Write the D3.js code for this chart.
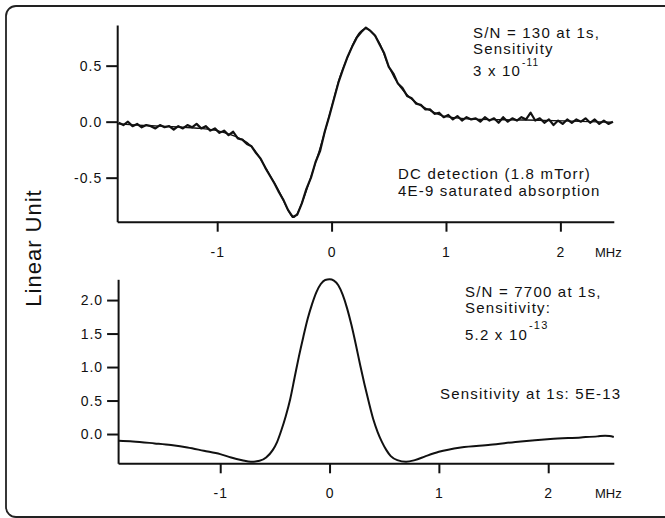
<!DOCTYPE html>
<meta charset="utf-8">
<script src="https://d3js.org/d3.v7.min.js"></script>
<style>
  body { margin: 0; background: #fff; }
  svg text { font-family: "Liberation Sans", Arial, sans-serif; fill: #111; }
  .axis path, .axis line { stroke: #111; stroke-width: 2; }
  .axis text { font-size: 14px; letter-spacing: 1px; }
  .note { font-size: 15px; letter-spacing: 1.2px; }
</style>
<svg width="665" height="518"></svg>
<script>
// top panel: saturated absorption signal (DC detection), sampled every 0.04 MHz
var topStart = -1.86, topStep = 0.04;
var topSignal = [
  -0.01, -0.03, 0.00, -0.04, -0.02, -0.05, -0.03, -0.04, -0.06, -0.03,
  -0.05, -0.04, -0.07, -0.04, -0.06, -0.03, -0.05, -0.02, -0.06, -0.04,
  -0.08, -0.06, -0.10, -0.08, -0.12, -0.09, -0.15, -0.16, -0.20, -0.22,
  -0.28, -0.33, -0.41, -0.48, -0.55, -0.63, -0.70, -0.79, -0.85, -0.83,
  -0.73, -0.60, -0.50, -0.36, -0.26, -0.09, 0.05, 0.20, 0.35, 0.47,
  0.58, 0.67, 0.75, 0.80, 0.84, 0.81, 0.77, 0.69, 0.61, 0.49,
  0.43, 0.34, 0.30, 0.23, 0.21, 0.16, 0.15, 0.11, 0.11, 0.07,
  0.08, 0.04, 0.06, 0.02, 0.05, 0.01, 0.04, 0.02, 0.03, 0.00,
  0.04, 0.01, 0.03, -0.01, 0.04, 0.00, 0.03, 0.01, 0.04, 0.02,
  0.08, 0.01, 0.03, -0.01, 0.02, -0.03, 0.01, -0.02, 0.02, -0.01,
  0.02, 0.00, 0.03, -0.01, 0.02, -0.02, 0.01, -0.02, 0.00
];
// smooth fit drawn under the noisy trace
var topFitX = [-1.87, -1.7, -1.5, -1.3, -1.15, -1.0, -0.9, -0.8, -0.7, -0.63, -0.55, -0.45, -0.38, -0.335, -0.3, -0.25, -0.16, -0.07, 0.0, 0.07, 0.15, 0.2, 0.25, 0.3, 0.35, 0.42, 0.5, 0.6, 0.69, 0.77, 0.86, 1.0, 1.3, 1.7, 2.1, 2.45];
var topFitY = [-0.02, -0.03, -0.04, -0.05, -0.06, -0.08, -0.11, -0.15, -0.22, -0.32, -0.46, -0.64, -0.79, -0.855, -0.82, -0.70, -0.43, -0.13, 0.13, 0.39, 0.60, 0.72, 0.80, 0.83, 0.80, 0.70, 0.49, 0.31, 0.21, 0.15, 0.10, 0.045, 0.02, 0.015, 0.005, -0.005];

// bottom panel line shape
var bottomX = [-1.93, -1.8, -1.6, -1.45, -1.3, -1.15, -1.0, -0.9, -0.8, -0.72, -0.64, -0.58, -0.52, -0.48, -0.44, -0.40, -0.36, -0.32, -0.28, -0.24, -0.20, -0.16, -0.12, -0.08, -0.04, 0.0, 0.04, 0.08, 0.12, 0.16, 0.20, 0.24, 0.28, 0.32, 0.36, 0.40, 0.44, 0.48, 0.52, 0.56, 0.62, 0.70, 0.78, 0.88, 1.0, 1.2, 1.47, 1.75, 2.02, 2.3, 2.45, 2.52, 2.56, 2.60];
var bottomY = [-0.10, -0.11, -0.14, -0.165, -0.20, -0.25, -0.30, -0.35, -0.39, -0.415, -0.40, -0.35, -0.24, -0.12, 0.06, 0.27, 0.52, 0.84, 1.16, 1.45, 1.72, 1.94, 2.12, 2.24, 2.30, 2.31, 2.29, 2.22, 2.08, 1.88, 1.63, 1.34, 1.03, 0.74, 0.47, 0.22, 0.03, -0.12, -0.24, -0.33, -0.39, -0.415, -0.39, -0.33, -0.265, -0.20, -0.16, -0.11, -0.075, -0.05, -0.035, -0.025, -0.03, -0.045];

var xTicks = [-1, 0, 1, 2];
var topYTicks = [-0.5, 0.0, 0.5];
var bottomYTicks = [0.0, 0.5, 1.0, 1.5, 2.0];

var svg = d3.select("svg");

// scanned-figure frame
svg.append("rect")
  .attr("x", 6).attr("y", 6)
  .attr("width", 720).attr("height", 511)
  .attr("rx", 10)
  .attr("fill", "none")
  .attr("stroke", "#222")
  .attr("stroke-width", 1.8);

var fmt = function(d) { return d.toFixed(1).replace("\u2212", "-"); };

function panel(opts) {
  var x = d3.scaleLinear().domain(opts.xDomain).range(opts.xRange);
  var y = d3.scaleLinear().domain(opts.yDomain).range(opts.yRange);

  svg.append("g")
    .attr("class", "axis")
    .attr("transform", "translate(0," + opts.yRange[0] + ")")
    .call(d3.axisBottom(x).tickValues(xTicks).tickSize(10).tickSizeOuter(0).tickPadding(15)
      .tickFormat(function(d) { return String(d); }));

  svg.append("g")
    .attr("class", "axis")
    .attr("transform", "translate(" + opts.xRange[0] + ",0)")
    .call(d3.axisLeft(y).tickValues(opts.yTicks).tickSize(11).tickSizeOuter(0).tickPadding(4)
      .tickFormat(fmt));

  svg.append("text")
    .attr("x", 595)
    .attr("y", opts.yRange[0] + 35)
    .style("font-size", "13px")
    .text("MHz");

  return {x: x, y: y};
}

var topP = panel({
  xDomain: [-1.874, 2.467], xRange: [117.2, 613.8],
  yDomain: [-0.893, 0.863], yRange: [221.7, 25],
  yTicks: topYTicks
});

var botP = panel({
  xDomain: [-1.934, 2.60], xRange: [118.1, 613.8],
  yDomain: [-0.437, 2.31], yRange: [463.3, 279.3],
  yTicks: bottomYTicks
});

// top fit
svg.append("path")
  .datum(topFitX.map(function(d, i) { return [d, topFitY[i]]; }))
  .attr("fill", "none")
  .attr("stroke", "#111")
  .attr("stroke-width", 1.3)
  .attr("d", d3.line()
    .x(function(d) { return topP.x(d[0]); })
    .y(function(d) { return topP.y(d[1]); })
    .curve(d3.curveMonotoneX));

// top noisy trace
svg.append("path")
  .datum(topSignal)
  .attr("fill", "none")
  .attr("stroke", "#111")
  .attr("stroke-width", 2.2)
  .attr("stroke-linejoin", "round")
  .attr("d", d3.line()
    .x(function(d, i) { return topP.x(topStart + i * topStep); })
    .y(function(d) { return topP.y(d); }));

// bottom trace
svg.append("path")
  .datum(bottomX.map(function(d, i) { return [d, bottomY[i]]; }))
  .attr("fill", "none")
  .attr("stroke", "#111")
  .attr("stroke-width", 2)
  .attr("d", d3.line()
    .x(function(d) { return botP.x(d[0]); })
    .y(function(d) { return botP.y(d[1]); })
    .curve(d3.curveMonotoneX));

// annotations
function note(x, y, s) {
  return svg.append("text").attr("class", "note").attr("x", x).attr("y", y).text(s);
}
note(473, 38, "S/N = 130 at 1s,");
note(473, 54, "Sensitivity");
note(473, 76, "3 x 10")
  .append("tspan").attr("dx", 1).attr("dy", -10).style("font-size", "10px").text("-11");
note(398, 179, "DC detection (1.8 mTorr)");
note(398, 196, "4E-9 saturated absorption");

note(465, 297, "S/N = 7700 at 1s,");
note(465, 313, "Sensitivity:");
note(465, 340, "5.2 x 10")
  .append("tspan").attr("dx", 1).attr("dy", -11).style("font-size", "11px").text("-13");
note(440, 399, "Sensitivity at 1s: 5E-13");

// shared y label
svg.append("text")
  .attr("transform", "translate(40.5,248) rotate(-90)")
  .attr("text-anchor", "middle")
  .style("font-size", "22px")
  .style("letter-spacing", "1px")
  .text("Linear Unit");
</script>
